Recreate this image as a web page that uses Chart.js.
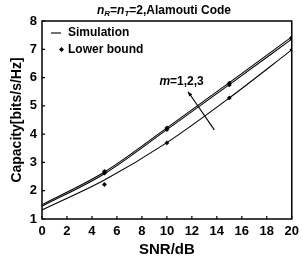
<!DOCTYPE html>
<html>
<head>
<meta charset="utf-8">
<script src="https://cdn.jsdelivr.net/npm/chart.js@4/dist/chart.umd.min.js"></script>
<style>
  html, body { margin: 0; padding: 0; background: #fff; }
  #wrap { width: 304px; height: 262px; }
</style>
</head>
<body>
<div id="wrap"><canvas id="chart" width="304" height="262"></canvas></div>
<script>
// ================= DATA =================
const snr = [0, 5, 10, 15, 20];
const xTicks = [0, 2, 4, 6, 8, 10, 12, 14, 16, 18, 20];
const yTicks = [1, 2, 3, 4, 5, 6, 7, 8];

const simM1 = [1.50, 2.66, 4.22, 5.82, 7.44];
const simM2 = [1.45, 2.60, 4.16, 5.75, 7.36];
const simM3 = [1.32, 2.38, 3.70, 5.28, 6.98];

const lbM1 = [null, 2.68, 4.22, 5.80, 7.42];
const lbM2 = [null, 2.62, 4.16, 5.74, 7.36];
const lbM3 = [null, 2.22, 3.69, 5.28, 6.98];

const titleParts = [
    { t: "n", italic: true }, { t: "R", sub: true, italic: true }, { t: "=" },
    { t: "n", italic: true }, { t: "T", sub: true, italic: true }, { t: "=2,Alamouti Code" }
];
const legendLabels = ["Simulation", "Lower bound"];
const arrowLabel = "m=1,2,3";

// ================= HELPERS =================
const FONT = "'Liberation Sans', Arial, sans-serif";
const toPts = (vals) => snr.map((x, i) => ({ x, y: vals[i] })).filter(p => p.y !== null);

function simSet(vals) {
    return {
        data: toPts(vals), showLine: true, borderColor: "#000", borderWidth: 1.1,
        pointRadius: 0, cubicInterpolationMode: "monotone", fill: false
    };
}
function lbSet(vals) {
    return {
        data: toPts(vals), showLine: false, pointStyle: "rectRot",
        pointRadius: 2.4, backgroundColor: "#000", borderColor: "#000", borderWidth: 0
    };
}

// ================= DECOR PLUGIN =================
const decor = {
    id: "decor",
    afterDraw(chart) {
        const { ctx, chartArea: a, scales: { x, y } } = chart;
        ctx.save();
        ctx.strokeStyle = "#000";
        ctx.fillStyle = "#000";

        // frame
        ctx.lineWidth = 1.5;
        ctx.strokeRect(a.left, a.top, a.right - a.left, a.bottom - a.top);

        // inward ticks
        ctx.lineWidth = 1.2;
        ctx.beginPath();
        xTicks.forEach(v => {
            const px = x.getPixelForValue(v);
            ctx.moveTo(px, a.bottom); ctx.lineTo(px, a.bottom - 3);
        });
        yTicks.forEach(v => {
            const py = y.getPixelForValue(v);
            ctx.moveTo(a.left, py); ctx.lineTo(a.left + 3, py);
        });
        ctx.stroke();

        // title with subscripts
        let w = 0;
        const fontFor = p => (p.italic ? "italic " : "") + "bold " + (p.sub ? 8 : 12) + "px " + FONT;
        titleParts.forEach(p => { ctx.font = fontFor(p); w += ctx.measureText(p.t).width; });
        let tx = 164 - w / 2;
        ctx.textBaseline = "alphabetic";
        ctx.textAlign = "left";
        titleParts.forEach(p => {
            ctx.font = fontFor(p);
            ctx.fillText(p.t, tx, p.sub ? 16 : 14);
            tx += ctx.measureText(p.t).width;
        });

        // legend
        ctx.font = "bold 12px " + FONT;
        ctx.textBaseline = "middle";
        ctx.lineWidth = 1.1;
        ctx.beginPath();
        ctx.moveTo(a.left + 9, a.top + 12); ctx.lineTo(a.left + 19, a.top + 12);
        ctx.stroke();
        ctx.fillText(legendLabels[0], a.left + 26, a.top + 12);
        ctx.beginPath();
        ctx.moveTo(a.left + 19.5, a.top + 26); ctx.lineTo(a.left + 22, a.top + 28.5);
        ctx.lineTo(a.left + 19.5, a.top + 31); ctx.lineTo(a.left + 17, a.top + 28.5);
        ctx.closePath(); ctx.fill();
        ctx.fillText(legendLabels[1], a.left + 26, a.top + 28.5);

        // arrow annotation (placed in data units)
        const x0 = x.getPixelForValue(13.8), y0 = y.getPixelForValue(4.15);
        const x1 = x.getPixelForValue(11.7), y1 = y.getPixelForValue(5.5);
        ctx.lineWidth = 1.1;
        ctx.beginPath(); ctx.moveTo(x0, y0); ctx.lineTo(x1, y1); ctx.stroke();
        const ang = Math.atan2(y1 - y0, x1 - x0);
        ctx.beginPath();
        ctx.moveTo(x1, y1);
        ctx.lineTo(x1 - 5 * Math.cos(ang - 0.4), y1 - 5 * Math.sin(ang - 0.4));
        ctx.lineTo(x1 - 5 * Math.cos(ang + 0.4), y1 - 5 * Math.sin(ang + 0.4));
        ctx.closePath(); ctx.fill();

        const lx = x.getPixelForValue(9.4), ly = y.getPixelForValue(5.85);
        ctx.font = "italic bold 12px " + FONT;
        ctx.fillText("m", lx, ly);
        const mw = ctx.measureText("m").width;
        ctx.font = "bold 12px " + FONT;
        ctx.fillText(arrowLabel.slice(1), lx + mw, ly);

        ctx.restore();
    }
};

// ================= CHART =================
new Chart(document.getElementById("chart"), {
    type: "scatter",
    data: {
        datasets: [
            simSet(simM1), simSet(simM2), simSet(simM3),
            lbSet(lbM1), lbSet(lbM2), lbSet(lbM3)
        ]
    },
    options: {
        responsive: false,
        animation: false,
        layout: { padding: { top: 21, right: 11, left: 0, bottom: 0 } },
        plugins: { legend: { display: false }, tooltip: { enabled: false } },
        scales: {
            x: {
                type: "linear", min: 0, max: 20,
                afterFit: s => { s.height = 43; },
                afterBuildTicks: s => { s.ticks = xTicks.map(v => ({ value: v })); },
                grid: { display: false, drawTicks: false },
                border: { display: false },
                ticks: { color: "#000", padding: 5, maxRotation: 0, font: { family: FONT, size: 13, weight: "bold" } },
                title: { display: true, text: "SNR/dB", color: "#000", padding: { top: 0, bottom: 3 },
                         font: { family: FONT, size: 15, weight: "bold" } }
            },
            y: {
                type: "linear", min: 1, max: 8,
                afterFit: s => { s.width = 42; },
                afterBuildTicks: s => { s.ticks = yTicks.map(v => ({ value: v })); },
                grid: { display: false, drawTicks: false },
                border: { display: false },
                ticks: { color: "#000", padding: 5, font: { family: FONT, size: 13, weight: "bold" } },
                title: { display: true, text: "Capacity[bits/s/Hz]", color: "#000", padding: { top: 9, bottom: 0 },
                         font: { family: FONT, size: 14, weight: "bold" } }
            }
        }
    },
    plugins: [decor]
});
</script>
</body>
</html>
